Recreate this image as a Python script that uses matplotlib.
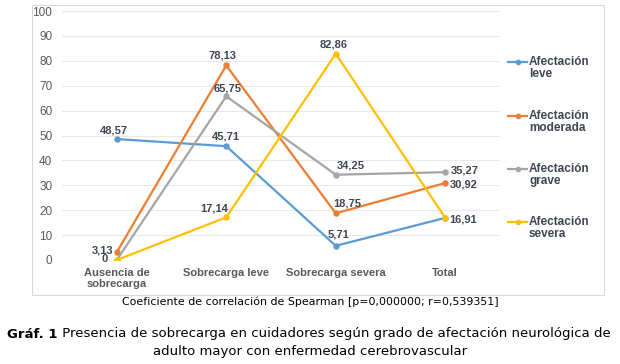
import matplotlib
matplotlib.use('agg')
import matplotlib.pyplot as plt
from matplotlib.patches import Rectangle
from matplotlib.lines import Line2D

# datos
categorias = ['Ausencia de\nsobrecarga', 'Sobrecarga leve', 'Sobrecarga severa', 'Total']
leve = [48.57, 45.71, 5.71, 16.91]
moderada = [3.13, 78.13, 18.75, 30.92]
grave = [0, 65.75, 34.25, 35.27]
severa = [0, 17.14, 82.86, 16.91]
series = ['Afectación\nleve', 'Afectación\nmoderada', 'Afectación\ngrave', 'Afectación\nsevera']
colores = ['#5B9BD5', '#ED7D31', '#A5A5A5', '#FFC000']

plt.rcParams['font.family'] = ['Liberation Sans', 'DejaVu Sans']

fig = plt.figure(figsize=(6.2, 3.64), dpi=100)
fig.patch.set_facecolor('white')
fig.patches.append(Rectangle((32/620, 1-295/364), 572/620, 290/364, transform=fig.transFigure,
                             fill=False, edgecolor='#D9D9D9', lw=0.8))
ax = fig.add_axes([62/620, 1-260/364, 438/620, 249/364])

x = range(len(categorias))
for vals, c, lab in zip([leve, moderada, grave, severa], colores, series):
    ax.plot(x, vals, color=c, lw=1.6, marker='o', ms=3.6, label=lab)

ax.set_xlim(-0.5, 3.5)
ax.set_ylim(0, 100)
ax.set_yticks(range(0, 101, 10))
ax.grid(axis='y', color='#E8E8E8', lw=0.8)
ax.set_axisbelow(True)
for s in ax.spines.values():
    s.set_visible(False)
ax.tick_params(length=0, colors='#595959', labelsize=8.5)
ax.tick_params(axis='y', pad=7)
ax.tick_params(axis='x', pad=6)
ax.set_xticks(list(x))
ax.set_xticklabels(categorias, fontweight='bold', fontsize=8, linespacing=1.05)

lab_kw = dict(fontsize=8, fontweight='bold', color='#3F4651')
def fmt(v):
    return ('%.2f' % v).replace('.', ',') if v != 0 else '0'

# etiquetas de datos: (serie, indice, dx px, dy px, ha)
etiquetas = [
    (leve, 0, -3, 9, 'center'), (leve, 1, 0, 10, 'center'), (leve, 2, 3, 11, 'center'),
    (leve, 3, 4, -2, 'left'),
    (moderada, 0, -3, 2, 'right'), (moderada, 1, -4, 10, 'center'), (moderada, 2, 11, 10, 'center'),
    (moderada, 3, 5, -1, 'left'),
    (grave, 0, -9, 1, 'right'), (grave, 1, 1, 8, 'center'), (grave, 2, 15, 9, 'center'),
    (grave, 3, 6, 2, 'left'),
    (severa, 1, -12, 9, 'center'), (severa, 2, -2, 9, 'center'),
]
for serie, i, dx, dy, ha in etiquetas:
    ax.annotate(fmt(serie[i]), (i, serie[i]), xytext=(dx, -dy * -1), textcoords='offset pixels',
                ha=ha, va='center', **lab_kw)

# leyenda
leg_y = [62, 116, 169, 222]
for lab, c, yy in zip(series, colores, leg_y):
    yf = 1 - yy/364
    fig.add_artist(Line2D([508/620, 527/620], [yf, yf], color=c, lw=1.6))
    fig.add_artist(Line2D([517.5/620], [yf], color=c, marker='o', ms=3))
    fig.text(529/620, yf + 6/364, lab, ha='left', va='top', fontsize=8.5, fontweight='bold',
             color='#3F4651', linespacing=1.05)

fig.text(0.5, 1-302/364, 'Coeficiente de correlación de Spearman [p=0,000000; r=0,539351]',
         ha='center', va='center', fontsize=7.9, family='DejaVu Sans')
t1 = fig.text(7/620, 1-334/364, 'Gráf. 1', ha='left', va='center', fontsize=9.5,
              fontweight='bold', family='DejaVu Sans')
fig.canvas.draw()
bb = t1.get_window_extent().transformed(fig.transFigure.inverted())
fig.text(bb.x1, 1-334/364, ' Presencia de sobrecarga en cuidadores según grado de afectación neurológica de',
         ha='left', va='center', fontsize=9.5, family='DejaVu Sans')
fig.text(0.5, 1-352/364, 'adulto mayor con enfermedad cerebrovascular',
         ha='center', va='center', fontsize=9.5, family='DejaVu Sans')

fig.savefig('out.png', dpi=100)
